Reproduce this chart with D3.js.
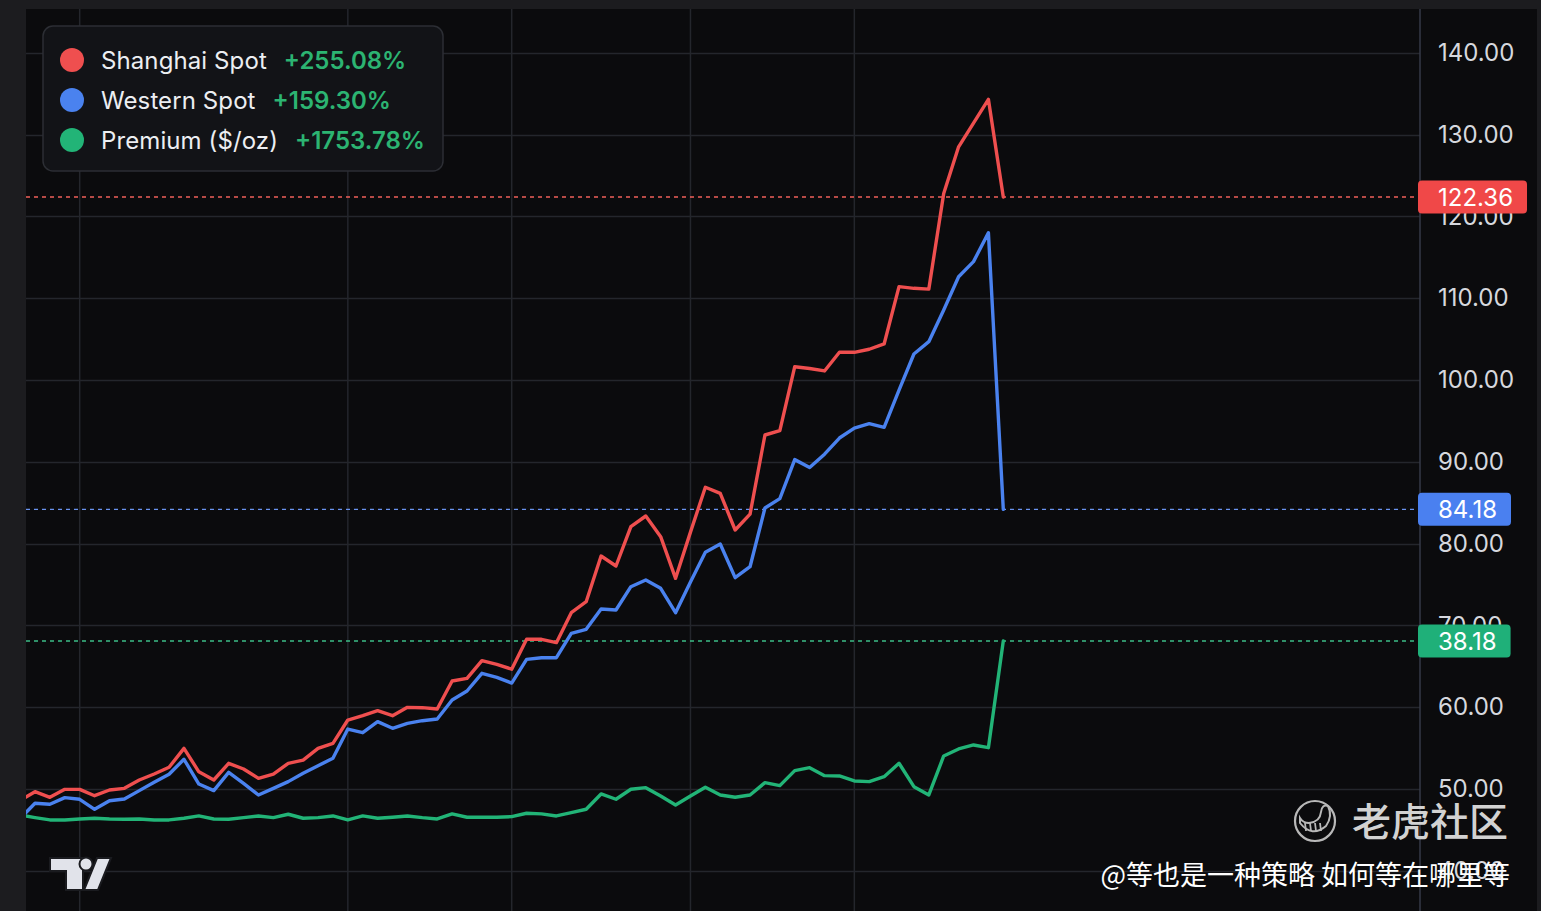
<!DOCTYPE html>
<html>
<meta charset="utf-8">
<script src="https://d3js.org/d3.v7.min.js"></script>
<style>
  body { margin: 0; background: #1c1c1f; }
  text { font-family: Inter, "Noto Sans", sans-serif; }
</style>
<body>
<div id="vis"></div>
<script>
// ---- data (one point per session) ----
const shanghai = [48.6, 49.67, 48.98, 49.96, 49.96, 49.18, 49.88, 50.08, 51.1, 51.83,
  52.65, 54.97, 52.1, 51.1, 53.14, 52.44, 51.3, 51.83, 53.14, 53.54,
  54.97, 55.58, 58.43, 58.96, 59.57, 58.96, 59.98, 59.94, 59.78, 63.2,
  63.53, 65.68, 65.24, 64.65, 68.3, 68.3, 67.89, 71.55, 72.9, 78.48,
  77.26, 82.06, 83.37, 80.84, 75.75, 81.4, 86.88, 86.14, 81.66, 83.6,
  93.27, 93.8, 101.62, 101.4, 101.1, 103.38, 103.38, 103.75, 104.4, 111.4,
  111.2, 111.1, 122.8, 128.5, 131.4, 134.3, 122.36];
const western = [46.4, 48.25, 48.13, 48.94, 48.74, 47.52, 48.57, 48.78, 49.8, 50.82,
  51.8, 53.63, 50.61, 49.8, 52.04, 50.69, 49.27, 50.08, 50.9, 51.92,
  52.85, 53.75, 57.33, 56.88, 58.23, 57.42, 58.03, 58.35, 58.56, 60.88,
  61.98, 64.14, 63.65, 62.95, 65.85, 66.05, 66.05, 69.03, 69.52, 72.0,
  71.88, 74.73, 75.55, 74.53, 71.55, 75.3, 78.93, 79.95, 75.83, 77.17,
  84.35, 85.5, 90.26, 89.3, 90.93, 92.9, 94.12, 94.66, 94.21, 98.77,
  103.17, 104.68, 108.55, 112.62, 114.46, 118.0, 84.18];
const premium = [2.0, 1.45, 0.97, 0.97, 1.17, 1.32, 1.17, 1.1, 1.17, 0.97,
  0.97, 1.32, 1.8, 1.17, 1.1, 1.45, 1.8, 1.45, 2.15, 1.32,
  1.45, 1.8, 0.97, 1.8, 1.32, 1.53, 1.8, 1.45, 1.17, 2.22,
  1.53, 1.53, 1.53, 1.66, 2.36, 2.22, 1.8, 2.48, 3.19, 6.37,
  5.27, 7.35, 7.68, 5.95, 4.08, 5.95, 7.76, 6.16, 5.68, 6.16,
  8.72, 8.1, 11.22, 11.84, 10.18, 10.11, 9.07, 8.93, 9.97, 12.75,
  7.89, 6.16, 14.27, 15.73, 16.56, 16.0, 38.18];

const seriesNames = ["Shanghai Spot", "Western Spot", "Premium ($/oz)"];
const seriesChange = ["+255.08%", "+159.30%", "+1753.78%"];
const colors = ["#ef4f4f", "#4a82ef", "#22b477"];
const yTicks = [40, 50, 60, 70, 80, 90, 100, 110, 120, 130, 140];
const gridIdx = [4, 22, 33, 45, 56];   // vertical grid (time) lines

const W = 1541, H = 911;
const plot = {left: 26, top: 9, right: 1420, axisRight: 1537};

const svg = d3.select("#vis").append("svg")
  .attr("width", W).attr("height", H);

svg.append("rect")
  .attr("x", plot.left).attr("y", plot.top)
  .attr("width", plot.axisRight - plot.left).attr("height", H - plot.top)
  .attr("fill", "#0b0b0d");

const x = d3.scaleLinear().domain([0, shanghai.length - 1]).range([20.1, 1003.3]);
const y = d3.scaleLinear().domain([50, 140]).range([789, 52.7]);
// premium sits on its own hidden overlay scale
const yPrem = d3.scaleLinear().domain([0, 38.18]).range([824.6, 641]);

svg.append("clipPath").attr("id", "clip")
  .append("rect").attr("x", plot.left).attr("y", plot.top)
  .attr("width", plot.right - plot.left).attr("height", H - plot.top);

// grid
svg.append("g").selectAll("line").data(yTicks).join("line")
  .attr("x1", plot.left).attr("x2", plot.right)
  .attr("y1", d => Math.round(y(d)) + 0.5).attr("y2", d => Math.round(y(d)) + 0.5)
  .attr("stroke", "#24262c").attr("stroke-width", 1.5);
svg.append("g").selectAll("line").data(gridIdx).join("line")
  .attr("x1", d => x(d)).attr("x2", d => x(d))
  .attr("y1", plot.top).attr("y2", H)
  .attr("stroke", "#24262c").attr("stroke-width", 1.5);

// right axis
svg.append("line")
  .attr("x1", plot.right).attr("x2", plot.right)
  .attr("y1", plot.top).attr("y2", H)
  .attr("stroke", "#363a47").attr("stroke-width", 1.5);

const axis = d3.axisRight(y).tickValues(yTicks).tickFormat(d3.format(".2f")).tickSize(0).tickPadding(0);
const axisG = svg.append("g")
  .attr("transform", `translate(${plot.right + 18},0)`)
  .call(axis);
axisG.select(".domain").remove();
axisG.selectAll("text")
  .attr("fill", "#d6d8de").style("font-size", "24px")
  .style("font-family", "Inter, 'Noto Sans', sans-serif");

// last value dashed lines
const lastVals = [
  {v: shanghai[shanghai.length - 1], py: y(shanghai[shanghai.length - 1]), c: "#f0605a", box: "#f04848"},
  {v: western[western.length - 1], py: y(western[western.length - 1]), c: "#6a93f0", box: "#4a80f0"},
  {v: premium[premium.length - 1], py: yPrem(premium[premium.length - 1]), c: "#3cbd86", box: "#1fb079"}
];
svg.append("g").selectAll("line").data(lastVals).join("line")
  .attr("x1", plot.left).attr("x2", plot.right)
  .attr("y1", d => d.py).attr("y2", d => d.py)
  .attr("stroke", d => d.c).attr("stroke-width", 1.4)
  .attr("stroke-dasharray", "4,4");

// lines
const lineMain = d3.line().x((d, i) => x(i)).y(d => y(d));
const linePrem = d3.line().x((d, i) => x(i)).y(d => yPrem(d));
const lines = svg.append("g").attr("clip-path", "url(#clip)")
  .attr("fill", "none").attr("stroke-width", 3.4)
  .attr("stroke-linejoin", "round").attr("stroke-linecap", "round");
lines.append("path").attr("d", linePrem(premium)).attr("stroke", colors[2]);
lines.append("path").attr("d", lineMain(western)).attr("stroke", colors[1]);
lines.append("path").attr("d", lineMain(shanghai)).attr("stroke", colors[0]);

// price labels on the axis
const tags = svg.append("g").selectAll("g").data(lastVals).join("g")
  .attr("transform", d => `translate(${plot.right - 2},${d.py})`);
tags.append("text")
  .attr("x", 20).attr("dy", "0.36em")
  .attr("fill", "#ffffff").style("font-size", "24px")
  .text(d => d.v.toFixed(2));
tags.each(function(d) {
  const g = d3.select(this);
  const tw = g.select("text").node().getComputedTextLength();
  g.insert("rect", "text")
    .attr("x", 0).attr("y", -16.5).attr("width", tw + 34).attr("height", 33)
    .attr("rx", 4).attr("fill", d.box);
});

// legend
const legend = svg.append("g");
legend.append("rect")
  .attr("x", 43).attr("y", 26).attr("width", 400).attr("height", 145)
  .attr("rx", 10).attr("fill", "#121317")
  .attr("stroke", "#2c2e34").attr("stroke-width", 1.5);
const rows = legend.selectAll("g").data(seriesNames).join("g")
  .attr("transform", (d, i) => `translate(0,${60 + i * 40})`);
rows.append("circle").attr("cx", 72).attr("r", 12).attr("fill", (d, i) => colors[i]);
rows.append("text")
  .attr("class", "lbl").attr("x", 101).attr("dy", "0.36em")
  .attr("fill", "#eceef2").style("font-size", "24px").style("letter-spacing", "0.1px")
  .text(d => d);
rows.each(function(d, i) {
  const g = d3.select(this);
  const tw = g.select(".lbl").node().getComputedTextLength();
  g.append("text")
    .attr("x", 101 + tw + 17).attr("dy", "0.36em")
    .attr("fill", "#2cb472").style("font-size", "24px").style("font-weight", 600)
    .text(seriesChange[i]);
});

// TradingView mark
const tv = svg.append("g").attr("fill", "#e1e3ea").attr("stroke", "#1a1b1f").attr("stroke-width", 2);
tv.append("path").attr("d", "M50,858 L83,858 L83,890 L66,890 L66,871 L50,871 Z");
tv.append("circle").attr("cx", 86).attr("cy", 864).attr("r", 6.5);
tv.append("path").attr("d", "M97,858 L111,858 L98,890 L84,890 Z");

// watermark
const wm = svg.append("g");
wm.append("circle").attr("cx", 1315).attr("cy", 821).attr("r", 20)
  .attr("fill", "none").attr("stroke", "#b8b8b8").attr("stroke-width", 2.2);
wm.append("path")
  .attr("d", "M1300,823 Q1312,838 1326,826 Q1333,816 1328,806 Q1322,804 1321,812 Q1320,822 1309,823 Q1303,823 1300,818 Z")
  .attr("fill", "none").attr("stroke", "#b8b8b8").attr("stroke-width", 2);
wm.selectAll("line.stripe").data([1305, 1310, 1315, 1320]).join("line")
  .attr("class", "stripe")
  .attr("x1", d => d).attr("x2", d => d + 1)
  .attr("y1", 823).attr("y2", 831)
  .attr("stroke", "#b8b8b8").attr("stroke-width", 1.8);
wm.append("text")
  .attr("x", 1508).attr("y", 836).attr("text-anchor", "end")
  .attr("fill", "#d2d2d2").style("font-size", "39px").style("font-weight", 500)
  .style("font-family", "'Noto Sans CJK SC', sans-serif")
  .text("老虎社区");
wm.append("text")
  .attr("x", 1510).attr("y", 885).attr("text-anchor", "end")
  .attr("fill", "#ffffff").style("font-size", "27px")
  .style("font-family", "'Noto Sans CJK SC', sans-serif")
  .text("@等也是一种策略 如何等在哪里等");
</script>
</body>
</html>
